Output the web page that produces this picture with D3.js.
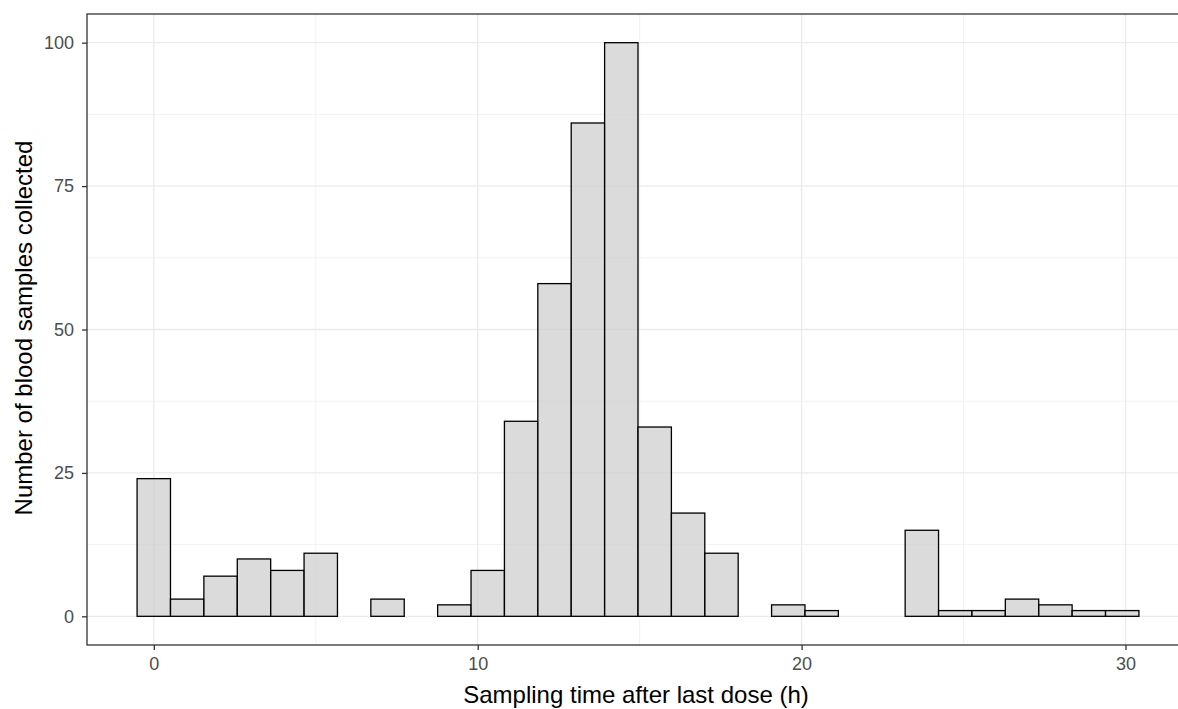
<!DOCTYPE html>
<html lang="en">

<head>
    <meta charset="UTF-8">
    <title>Sampling time histogram</title>
    <style>
        body {
            margin: 0;
            padding: 0;
            background: #fff;
            overflow: hidden;
        }

        svg text {
            font-family: "Liberation Sans", Arial, sans-serif;
        }

        .tick-label {
            fill: #4d4d4d;
            font-size: 18px;
        }

        .axis-title {
            fill: #000;
            font-size: 24px;
        }
    </style>
</head>

<body>
    <div id="chart"></div>
    <script src="https://d3js.org/d3.v7.min.js"></script>
    <script>
        // histogram bins (30 bins, ggplot style), hours after last dose
        const firstEdge = -0.516;
        const binWidth = 1.031;
        const counts = [24, 3, 7, 10, 8, 11, 0, 3, 0, 2,
            8, 34, 58, 86, 100, 33, 18, 11, 0, 2,
            1, 0, 0, 15, 1, 1, 3, 2, 1, 1];

        const xTicks = [0, 10, 20, 30];
        const xMinor = [5, 15, 25];
        const yTicks = [0, 25, 50, 75, 100];
        const yMinor = [12.5, 37.5, 62.5, 87.5];

        const bins = counts.map((c, i) => ({
            x0: firstEdge + i * binWidth,
            x1: firstEdge + (i + 1) * binWidth,
            n: c
        }));

        const W = 1178, H = 709;
        const panel = { left: 87, top: 14, right: 1189, bottom: 645 };

        const svg = d3.select("#chart").append("svg")
            .attr("width", W)
            .attr("height", H);

        // ggplot default 5% expansion on both axes
        const xMin = bins[0].x0, xMax = bins[bins.length - 1].x1;
        const xPad = (xMax - xMin) * 0.05;
        const x = d3.scaleLinear()
            .domain([xMin - xPad, xMax + xPad])
            .range([panel.left, panel.right]);

        const y = d3.scaleLinear()
            .domain([-5, 105])
            .range([panel.bottom, panel.top]);

        const grid = svg.append("g");

        grid.selectAll(".ymin").data(yMinor).enter().append("line")
            .attr("x1", panel.left).attr("x2", panel.right)
            .attr("y1", d => y(d)).attr("y2", d => y(d))
            .attr("stroke", "#f2f2f2").attr("stroke-width", 1);

        grid.selectAll(".xmin").data(xMinor).enter().append("line")
            .attr("y1", panel.top).attr("y2", panel.bottom)
            .attr("x1", d => x(d)).attr("x2", d => x(d))
            .attr("stroke", "#f2f2f2").attr("stroke-width", 1);

        grid.selectAll(".ymaj").data(yTicks).enter().append("line")
            .attr("x1", panel.left).attr("x2", panel.right)
            .attr("y1", d => y(d)).attr("y2", d => y(d))
            .attr("stroke", "#ebebeb").attr("stroke-width", 1.3);

        grid.selectAll(".xmaj").data(xTicks).enter().append("line")
            .attr("y1", panel.top).attr("y2", panel.bottom)
            .attr("x1", d => x(d)).attr("x2", d => x(d))
            .attr("stroke", "#ebebeb").attr("stroke-width", 1.3);

        // bars
        svg.append("g").selectAll("rect")
            .data(bins)
            .enter().append("rect")
            .attr("x", d => x(d.x0))
            .attr("width", d => x(d.x1) - x(d.x0))
            .attr("y", d => y(d.n))
            .attr("height", d => y(0) - y(d.n))
            .attr("fill", "#cccccc")
            .attr("fill-opacity", 0.7)
            .attr("stroke", "#000")
            .attr("stroke-width", 1.3);

        // panel border
        svg.append("rect")
            .attr("x", panel.left)
            .attr("y", panel.top)
            .attr("width", panel.right - panel.left)
            .attr("height", panel.bottom - panel.top)
            .attr("fill", "none")
            .attr("stroke", "#333")
            .attr("stroke-width", 1.3);

        // axes
        const xAxis = svg.append("g")
            .attr("transform", "translate(0," + panel.bottom + ")")
            .call(d3.axisBottom(x).tickValues(xTicks).tickSize(5).tickPadding(7));
        const yAxis = svg.append("g")
            .attr("transform", "translate(" + panel.left + ",0)")
            .call(d3.axisLeft(y).tickValues(yTicks).tickSize(5).tickPadding(8));

        [xAxis, yAxis].forEach(a => {
            a.select(".domain").remove();
            a.selectAll(".tick line").attr("stroke", "#333").attr("stroke-width", 1.3);
            a.selectAll(".tick text")
                .attr("class", "tick-label")
                .attr("font-family", null)
                .attr("font-size", null);
        });

        svg.append("text")
            .attr("class", "axis-title")
            .attr("x", 636)
            .attr("y", 703)
            .style("text-anchor", "middle")
            .text("Sampling time after last dose (h)");

        svg.append("text")
            .attr("class", "axis-title")
            .attr("transform", "translate(32,328) rotate(-90)")
            .style("text-anchor", "middle")
            .text("Number of blood samples collected");
    </script>
</body>

</html>
